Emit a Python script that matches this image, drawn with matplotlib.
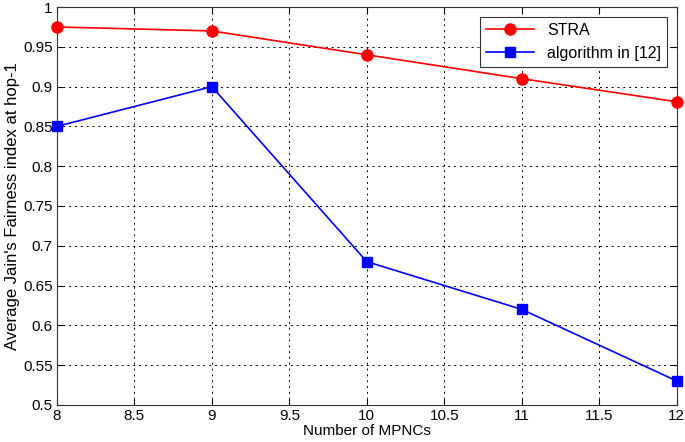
import matplotlib
matplotlib.use("Agg")
import matplotlib.pyplot as plt

mpncs = [8, 9, 10, 11, 12]
stra = [0.975, 0.97, 0.94, 0.91, 0.881]
algo12 = [0.85, 0.90, 0.68, 0.62, 0.53]

plt.rcParams['font.family'] = ['Liberation Sans', 'DejaVu Sans']

fig = plt.figure(figsize=(6.85, 4.42), dpi=100)
ax = fig.add_axes([0.083, 0.084, 0.905, 0.900])

ax.plot(mpncs, stra, color='red', marker='o', markersize=8, linewidth=1.2, label='STRA', clip_on=False, zorder=3)
ax.plot(mpncs, algo12, color='blue', marker='s', markersize=7, linewidth=1.2, label='algorithm in [12]', clip_on=False, zorder=3)

ax.set_xlim(8, 12)
ax.set_ylim(0.5, 1)
ax.set_xticks([8, 8.5, 9, 9.5, 10, 10.5, 11, 11.5, 12])
ax.set_xticklabels(['8', '8.5', '9', '9.5', '10', '10.5', '11', '11.5', '12'])
ax.set_yticks([0.5, 0.55, 0.6, 0.65, 0.7, 0.75, 0.8, 0.85, 0.9, 0.95, 1])
ax.set_yticklabels(['0.5', '0.55', '0.6', '0.65', '0.7', '0.75', '0.8', '0.85', '0.9', '0.95', '1'])
ax.tick_params(direction='in', labelsize=11, length=4, top=True, right=True, pad=3)
ax.grid(True, color='black', linestyle=(0, (2, 4)), linewidth=0.7)
for s in ax.spines.values():
    s.set_color('#333333')

ax.set_xlabel('Number of MPNCs', fontsize=11, labelpad=1)
ax.set_ylabel("Average Jain's Fairness index at hop-1", fontsize=12, labelpad=2)

leg = ax.legend(loc='upper right', fontsize=11.5, fancybox=False, edgecolor='#333333',
                framealpha=1, handlelength=3, borderaxespad=0.6)
leg.get_frame().set_linewidth(0.8)

fig.savefig('out.png', dpi=100)
